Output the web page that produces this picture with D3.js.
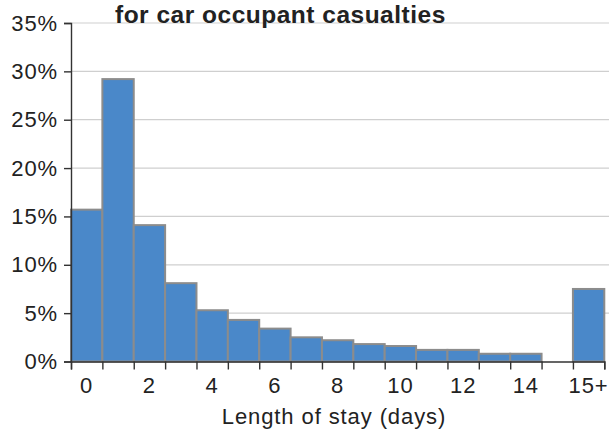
<!DOCTYPE html>
<html>
<head>
<meta charset="utf-8">
<script src="https://cdn.jsdelivr.net/npm/d3@7"></script>
<style>
  html, body { margin: 0; padding: 0; background: #fff; }
  svg { display: block; font-family: "Liberation Sans", Arial, Helvetica, sans-serif; }
</style>
</head>
<body>
<svg id="chart" width="609" height="429"></svg>
<script>
// Length-of-stay categories (days); the blank slot separates 14 from 15+
const categories = ["0","1","2","3","4","5","6","7","8","9","10","11","12","13","14","","15+"];
// Share of car occupant casualties (%) for each length of stay
const shares = [15.7, 29.2, 14.1, 8.1, 5.3, 4.3, 3.4, 2.5, 2.2, 1.8, 1.6, 1.2, 1.2, 0.8, 0.8, null, 7.5];
// Axis tick labels
const yTicks = [0, 5, 10, 15, 20, 25, 30, 35];
const xLabels = ["0","2","4","6","8","10","12","14","15+"];
const titleText = "for car occupant casualties";
const xTitle = "Length of stay (days)";

const svg = d3.select("#chart");
const plotLeft = 71, plotRight = 604.3, plotTop = 23, plotBottom = 361.5;
const labelFont = "'Liberation Sans', Arial, sans-serif";

const x = d3.scaleBand().domain(categories).range([plotLeft, plotRight]).padding(0);
const edges = d3.scaleLinear().domain([0, categories.length]).range([plotLeft, plotRight]);
const y = d3.scaleLinear().domain([0, 35]).range([plotBottom, plotTop]);

// horizontal gridlines
svg.append("g")
  .selectAll("line")
  .data(yTicks.filter(d => d > 0))
  .join("line")
  .attr("x1", plotLeft).attr("x2", 609)
  .attr("y1", d => y(d)).attr("y2", d => y(d))
  .attr("stroke", "#cfcfcf").attr("stroke-width", 1.2);

// bars
svg.append("g")
  .selectAll("rect")
  .data(categories.map((c, i) => ({ c, v: shares[i] })).filter(d => d.v != null))
  .join("rect")
  .attr("x", d => x(d.c))
  .attr("width", x.bandwidth())
  .attr("y", d => y(d.v))
  .attr("height", d => y(0) - y(d.v))
  .attr("fill", "#4a88c9")
  .attr("stroke", "#8c8c8c")
  .attr("stroke-width", 2);

// y axis
const yAxis = svg.append("g")
  .attr("transform", `translate(${plotLeft},0)`)
  .call(d3.axisLeft(y).tickValues(yTicks).tickFormat(d => d + "%").tickSize(7).tickPadding(6));
yAxis.select(".domain").attr("stroke", "#333").attr("stroke-width", 1.4);
yAxis.selectAll(".tick line").attr("stroke", "#333").attr("stroke-width", 1.4);
yAxis.selectAll(".tick text").attr("font-size", 22).attr("fill", "#222")
  .attr("letter-spacing", "0.9px").attr("font-family", labelFont);

// x axis: tick marks at bin edges
const xEdges = svg.append("g")
  .attr("transform", `translate(0,${plotBottom})`)
  .call(d3.axisBottom(edges).tickValues(d3.range(categories.length + 1)).tickFormat("").tickSize(8));
xEdges.select(".domain").attr("stroke", "#333").attr("stroke-width", 1.4);
xEdges.selectAll(".tick line").attr("stroke", "#333").attr("stroke-width", 1.4);

// x axis: labels centred under bins
const xLab = svg.append("g")
  .attr("transform", `translate(0,${plotBottom})`)
  .call(d3.axisBottom(x).tickValues(xLabels).tickSize(0).tickPadding(16));
xLab.select(".domain").remove();
xLab.selectAll(".tick text").attr("font-size", 22).attr("fill", "#222")
  .attr("letter-spacing", "0.9px").attr("font-family", labelFont);

// x axis title
svg.append("text")
  .attr("x", 334)
  .attr("y", 424)
  .attr("text-anchor", "middle")
  .attr("font-size", 22)
  .attr("letter-spacing", "0.9px")
  .attr("fill", "#222")
  .text(xTitle);

// chart title
svg.append("text")
  .attr("x", 115)
  .attr("y", 23)
  .attr("font-size", 24.5)
  .attr("font-weight", "bold")
  .attr("letter-spacing", "0.5px")
  .attr("fill", "#222")
  .text(titleText);
</script>
</body>
</html>
